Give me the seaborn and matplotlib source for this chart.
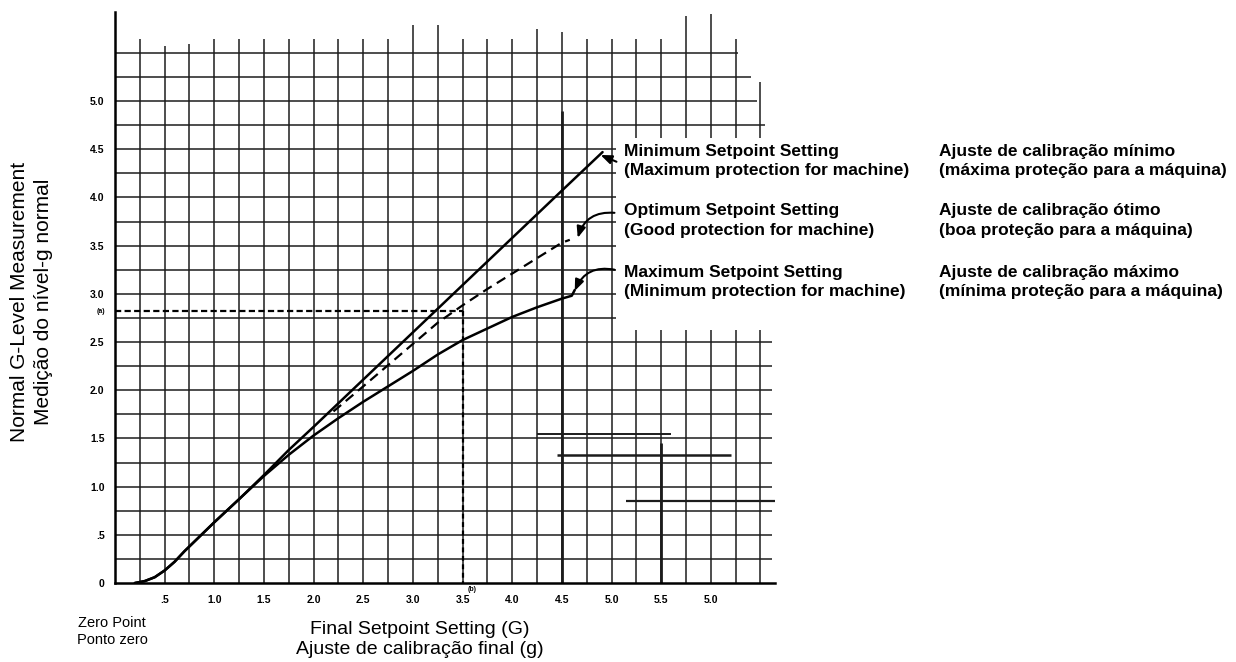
import matplotlib
matplotlib.use("Agg")
import matplotlib.pyplot as plt
import seaborn as sns
from matplotlib.patches import Rectangle

# ---------------- data ----------------
min_x = [0.2, 0.3, 0.4, 0.5, 0.6, 0.7, 0.8, 1.0, 1.25, 1.5, 1.75, 2.0, 2.5, 3.0, 3.5, 4.0, 4.5, 4.91]
min_y = [0.0, 0.02, 0.06, 0.13, 0.22, 0.33, 0.43, 0.63, 0.87, 1.12, 1.38, 1.62, 2.11, 2.60, 3.09, 3.58, 4.07, 4.47]

opt_x = [2.2, 2.5, 2.75, 3.0, 3.25, 3.5, 3.75, 4.0, 4.25, 4.5, 4.58]
opt_y = [1.78, 2.04, 2.26, 2.48, 2.70, 2.88, 3.05, 3.21, 3.37, 3.53, 3.56]

max_x = [0.2, 0.3, 0.4, 0.5, 0.6, 0.7, 0.8, 1.0, 1.25, 1.5, 1.75, 2.0, 2.25, 2.5, 2.75,
         3.0, 3.25, 3.5, 3.75, 4.0, 4.25, 4.5, 4.6, 4.63]
max_y = [0.0, 0.02, 0.06, 0.13, 0.22, 0.33, 0.43, 0.63, 0.87, 1.11, 1.33, 1.53, 1.71, 1.88, 2.04,
         2.20, 2.37, 2.52, 2.64, 2.76, 2.86, 2.95, 2.98, 3.04]

ref_x = 3.5
ref_y = 2.82

xtick_vals = [0.5, 1.0, 1.5, 2.0, 2.5, 3.0, 3.5, 4.0, 4.5, 5.0, 5.5, 6.0]
xtick_labels = [".5", "1.0", "1.5", "2.0", "2.5", "3.0", "3.5", "4.0", "4.5", "5.0", "5.5", "5.0"]
ytick_vals = [0, 0.5, 1.0, 1.5, 2.0, 2.5, 3.0, 3.5, 4.0, 4.5, 5.0, 5.5]
ytick_labels = ["0", ".5", "1.0", "1.5", "2.0", "2.5", "3.0", "3.5", "4.0", "4.5", "5.0", ""]

label_en = [("Minimum Setpoint Setting", "(Maximum protection for machine)"),
            ("Optimum Setpoint Setting", "(Good protection for machine)"),
            ("Maximum Setpoint Setting", "(Minimum protection for machine)")]
label_pt = [("Ajuste de calibração mínimo", "(máxima proteção para a máquina)"),
            ("Ajuste de calibração ótimo", "(boa proteção para a máquina)"),
            ("Ajuste de calibração máximo", "(mínima proteção para a máquina)")]

ylabel_lines = ["Normal G-Level Measurement", "Medição do nível-g normal"]
xlabel_lines = ["Final Setpoint Setting (G)", "Ajuste de calibração final (g)"]
zero_lines = ["Zero Point", "Ponto zero"]

# ---------------- style ----------------
sns.set_theme(style="white")
plt.rcParams['font.family'] = ['Liberation Sans', 'DejaVu Sans']
plt.rcParams['text.color'] = 'black'
plt.rcParams['xtick.color'] = 'black'
plt.rcParams['ytick.color'] = 'black'

W, H = 1236, 662
fig = plt.figure(figsize=(W / 100, H / 100), dpi=100)
fig.patch.set_facecolor("white")

X0, Y0 = 115.0, 583.0     # pixel of data origin
SX, SY = 99.3, 96.4       # pixels per data unit
xmax, ymax = 6.75, 5.95
ax = fig.add_axes([X0 / W, (H - Y0) / H, xmax * SX / W, ymax * SY / H])
ax.set_xlim(0, xmax)
ax.set_ylim(0, ymax)
ax.set_facecolor("white")

GC = "#1c1c1c"
# horizontal grid lines
for k in range(1, 23):
    y = 0.25 * k
    right = {22: 6.27, 21: 6.4, 20: 6.47, 19: 6.55}.get(k, 6.62)
    ax.hlines(y, 0, right, color=GC, lw=1.1, zorder=1)
# vertical grid lines
tops = {12: 5.79, 13: 5.79, 23: 5.88, 24: 5.9, 2: 5.57, 3: 5.59, 17: 5.75, 18: 5.72}
for k in range(1, 27):
    x = 0.25 * k
    top = tops.get(k, 5.64)
    if k == 26:
        top = 5.2
    ax.vlines(x, 0, top, color=GC, lw=1.1, zorder=1)
# heavier scan strokes
ax.vlines(4.5, 0, 4.9, color=GC, lw=2.0, zorder=1)
ax.vlines(5.5, 0, 1.45, color=GC, lw=2.0, zorder=1)
ax.hlines(1.33, 4.45, 6.2, color=GC, lw=1.8, zorder=1)
ax.hlines(1.55, 4.25, 5.6, color=GC, lw=1.4, zorder=1)
ax.hlines(0.85, 5.15, 6.65, color=GC, lw=1.6, zorder=1)

# white area behind the legend text
ax.add_patch(Rectangle((5.05, 2.62), 2.0, 2.0, facecolor="white", edgecolor="none", zorder=2))

# axes lines
for s in ["top", "right"]:
    ax.spines[s].set_visible(False)
ax.spines["left"].set_bounds(0, 5.92)
ax.spines["bottom"].set_bounds(0, 6.65)
for s in ["left", "bottom"]:
    ax.spines[s].set_color("black")
    ax.spines[s].set_linewidth(1.8)
    ax.spines[s].set_zorder(3)

# curves
sns.lineplot(x=min_x, y=min_y, ax=ax, color="black", lw=1.8, sort=False, estimator=None, zorder=4)
sns.lineplot(x=max_x, y=max_y, ax=ax, color="black", lw=1.8, sort=False, estimator=None, zorder=4)
sns.lineplot(x=opt_x, y=opt_y, ax=ax, color="black", lw=1.6, sort=False, estimator=None, zorder=4,
             linestyle=(0, (4.5, 2.7)))

# reference dashed lines
ax.plot([0, ref_x], [ref_y, ref_y], color="black", lw=1.6, ls=(0, (2.8, 1.5)), zorder=4)
ax.plot([ref_x, ref_x], [ref_y, 0], color="black", lw=1.6, ls=(0, (2.2, 1.6)), zorder=4)

# ticks
ax.set_xticks(xtick_vals, xtick_labels)
ax.set_yticks(ytick_vals, ytick_labels)
ax.tick_params(axis="both", direction="inout", length=7, width=1.3, color="black",
               labelsize=7.5, labelcolor="black")
ax.tick_params(axis="x", pad=5)
ax.tick_params(axis="y", pad=4)
for lbl in ax.get_xticklabels() + ax.get_yticklabels():
    lbl.set_fontweight("bold")
ax.text(-0.1, ref_y, "(a)", ha="right", va="center", fontsize=5, fontweight="bold")
ax.text(ref_x + 0.05, -0.03, "(b)", ha="left", va="top", fontsize=5, fontweight="bold")

# arrows from labels to curves
arrow_kw = dict(arrowstyle="-|>,head_length=0.55,head_width=0.22", color="black", lw=1.5,
                shrinkA=0, shrinkB=0)
ax.annotate("", xy=(4.89, 4.44), xytext=(5.05, 4.37), annotation_clip=False,
            arrowprops=dict(connectionstyle="arc3,rad=0.0", **arrow_kw), zorder=5)
ax.annotate("", xy=(4.66, 3.58), xytext=(5.03, 3.84), annotation_clip=False,
            arrowprops=dict(connectionstyle="arc3,rad=0.4", **arrow_kw), zorder=5)
ax.annotate("", xy=(4.63, 3.03), xytext=(5.03, 3.25), annotation_clip=False,
            arrowprops=dict(connectionstyle="arc3,rad=0.4", **arrow_kw), zorder=5)

# legend-like labels
def ftxt(px, py, s, **kw):
    fig.text(px / W, 1 - py / H, s, **kw)

for i, top_y in enumerate([151, 211, 272]):
    for j in range(2):
        ftxt(624, top_y + 19.5 * j, label_en[i][j], ha="left", va="center",
             fontsize=12.5, fontweight="bold")
        ftxt(939, top_y + 19.5 * j, label_pt[i][j], ha="left", va="center",
             fontsize=12.5, fontweight="bold")

# axis titles
ftxt(20, 302, ylabel_lines[0], rotation=90, ha="center", va="center", fontsize=15)
ftxt(44, 302, ylabel_lines[1], rotation=90, ha="center", va="center", fontsize=15)
ftxt(420, 629, xlabel_lines[0], ha="center", va="center", fontsize=14)
ftxt(420, 650, xlabel_lines[1], ha="center", va="center", fontsize=14)
ftxt(112, 623, zero_lines[0], ha="center", va="center", fontsize=10.5)
ftxt(112, 640, zero_lines[1], ha="center", va="center", fontsize=10.5)

fig.savefig("out.png", dpi=100, facecolor="white")
